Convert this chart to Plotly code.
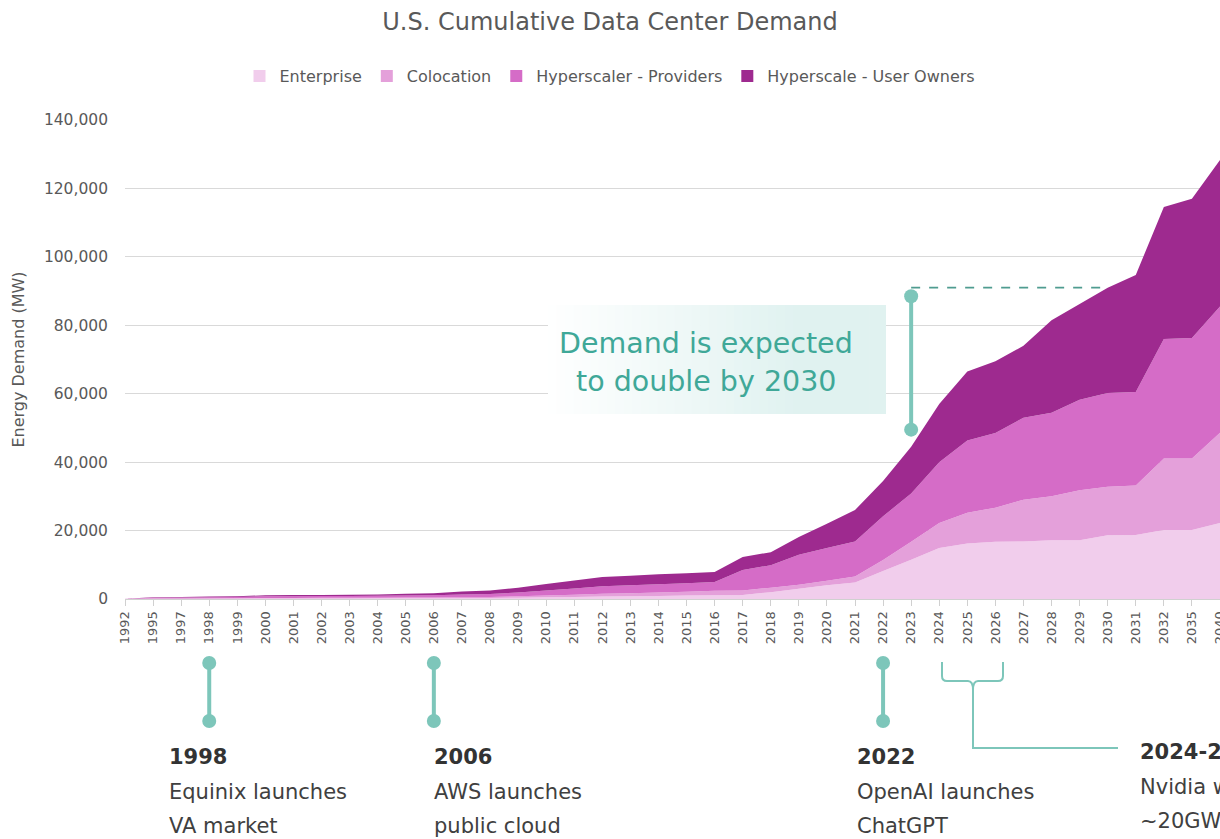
import plotly.graph_objects as go

# Category axis (years) and stacked series values in MW
years = ["1992", "1995", "1997", "1998", "1999", "2000", "2001", "2002", "2003", "2004",
         "2005", "2006", "2007", "2008", "2009", "2010", "2011", "2012", "2013", "2014",
         "2015", "2016", "2017", "2018", "2019", "2020", "2021", "2022", "2023", "2024",
         "2025", "2026", "2027", "2028", "2029", "2030", "2031", "2032", "2035", "2040"]

enterprise = [20, 80, 90, 100, 110, 150, 160, 170, 180, 190,
              200, 220, 260, 300, 380, 480, 580, 700, 800, 900,
              1000, 1100, 1200, 2000, 3000, 4000, 4800, 8200, 11500, 14900,
              16200, 16700, 16800, 17200, 17200, 18600, 18700, 20200, 20200, 22200]

colocation = [20, 70, 80, 100, 110, 150, 160, 170, 180, 190,
              220, 240, 290, 320, 420, 520, 670, 800, 900, 1000,
              1100, 1300, 1300, 1300, 1200, 1300, 1800, 3200, 5200, 7300,
              9000, 10000, 12200, 12800, 14600, 14200, 14500, 20900, 20900, 26400]

hyperscaler_providers = [40, 230, 280, 320, 360, 500, 510, 520, 530, 570,
                         580, 640, 750, 830, 1100, 1500, 1850, 2200, 2300, 2400,
                         2500, 2600, 6000, 6600, 8700, 9600, 10200, 12800, 14100, 17800,
                         21100, 21800, 24000, 24400, 26400, 27400, 27300, 34900, 35200, 36900]

hyperscale_user_owners = [20, 120, 150, 180, 220, 300, 320, 340, 360, 400,
                          500, 600, 900, 1050, 1400, 1900, 2300, 2700, 2800, 2900,
                          2900, 2900, 3800, 3800, 5200, 7100, 9200, 10300, 13700, 17000,
                          20200, 21000, 21000, 27100, 28000, 30800, 34200, 38600, 40700, 42800]

series = [
    ("Enterprise", enterprise, "#F1CDEC"),
    ("Colocation", colocation, "#E4A0DA"),
    ("Hyperscaler - Providers", hyperscaler_providers, "#D56CC7"),
    ("Hyperscale - User Owners", hyperscale_user_owners, "#9E2A8F"),
]

y_ticks = [0, 20000, 40000, 60000, 80000, 100000, 120000, 140000]

# Milestones shown below the axis
milestones = [
    ("1998", "Equinix launches", "VA market"),
    ("2006", "AWS launches", "public cloud"),
    ("2022", "OpenAI launches", "ChatGPT"),
]
range_label = ("2024-2026", "Nvidia will ship", "~20GW of GPUs")

TEAL = "#7DC6BA"
TEAL_TEXT = "#3FA898"
GREY = "#595959"
FONT = "DejaVu Sans"

# Page geometry
W, H = 1220, 839
ML, MR, MT, MB = 125, 0, 120, 240
PW, PH = W - ML - MR, H - MT - MB
X_MAX = len(years) - 1


def px(x):
    return (x - ML) / PW


def py(y):
    return (H - MB - y) / PH


def cat_paper(label):
    return years.index(label) / X_MAX


fig = go.Figure()

for name, vals, color in series:
    fig.add_trace(go.Scatter(
        x=years, y=vals, name=name, stackgroup="one", mode="none",
        fillcolor=color, showlegend=False, hoverinfo="x+y+name"))

# Square legend keys
for name, vals, color in series:
    fig.add_trace(go.Scatter(
        x=[None], y=[None], name=name, mode="markers",
        marker=dict(symbol="square", size=12, color=color)))

# "Doubling" marker: 2023 bar and dashed reference to the 2030 total
totals = [a + b + c + d for a, b, c, d in zip(enterprise, colocation, hyperscaler_providers, hyperscale_user_owners)]
total_2030 = totals[years.index("2030")]
fig.add_trace(go.Scatter(
    x=["2023", "2030"], y=[total_2030, total_2030], mode="lines",
    line=dict(color="#4F9C90", width=1.6, dash="dash"), showlegend=False, hoverinfo="skip"))
fig.add_trace(go.Scatter(
    x=["2023", "2023"], y=[49500, 88500], mode="lines+markers",
    line=dict(color=TEAL, width=4), marker=dict(size=14, color=TEAL),
    showlegend=False, hoverinfo="skip", cliponaxis=False))

shapes = []
annotations = []

# Gradient panel behind the callout text
x0, x1, y0, y1 = 548, 886, 305, 414
n = 40
start, end = (255, 255, 255), (224, 242, 240)
for i in range(n):
    t = min(1.0, (i + 0.5) / n * 1.35)
    col = tuple(round(s + (e - s) * t) for s, e in zip(start, end))
    xa = x0 + (x1 - x0) * i / n
    xb = x0 + (x1 - x0) * (i + 1) / n + 0.8
    shapes.append(dict(type="rect", xref="paper", yref="paper",
                       x0=px(xa), x1=px(min(xb, x1)), y0=py(y1), y1=py(y0),
                       fillcolor="rgb(%d,%d,%d)" % col, line=dict(width=0), layer="above"))

annotations.append(dict(text="Demand is expected", xref="paper", yref="paper",
                        x=px(706), y=py(343), xanchor="center", yanchor="middle",
                        showarrow=False, font=dict(family=FONT, size=28.5, color=TEAL_TEXT)))
annotations.append(dict(text="to double by 2030", xref="paper", yref="paper",
                        x=px(706), y=py(381), xanchor="center", yanchor="middle",
                        showarrow=False, font=dict(family=FONT, size=28.5, color=TEAL_TEXT)))

# Milestone pins and captions below the axis
caption_x = {"1998": 167, "2006": 432, "2022": 855}
for year, line1, line2 in milestones:
    xp = cat_paper(year)
    shapes.append(dict(type="line", xref="paper", yref="paper", x0=xp, x1=xp,
                       y0=py(663), y1=py(721), line=dict(color=TEAL, width=4)))
    for yy in (663, 721):
        shapes.append(dict(type="circle", xref="paper", yref="paper",
                           xsizemode="pixel", ysizemode="pixel",
                           xanchor=xp, yanchor=py(yy), x0=-7, x1=7, y0=-7, y1=7,
                           fillcolor=TEAL, line=dict(width=0)))
    cx = px(caption_x[year])
    annotations.append(dict(text="<b>%s</b>" % year, xref="paper", yref="paper", x=cx, y=py(757),
                            xanchor="left", yanchor="middle", showarrow=False,
                            font=dict(family=FONT, size=21, color="#333333")))
    for txt, yy in ((line1, 792), (line2, 826)):
        annotations.append(dict(text=txt, xref="paper", yref="paper", x=cx, y=py(yy),
                                xanchor="left", yanchor="middle", showarrow=False,
                                font=dict(family=FONT, size=21, color="#404040")))

# Curly brace spanning 2024-2026 with leader line
def path(points):
    out = []
    for cmd, coords in points:
        out.append(cmd + " ".join("%.5f,%.5f" % (px(a), py(b)) for a, b in coords))
    return " ".join(out)

brace = path([
    ("M", [(942, 662)]), ("L", [(942, 676)]), ("Q", [(942, 681), (947, 681)]),
    ("L", [(968, 681)]), ("Q", [(973, 681), (973, 690)]), ("L", [(973, 748)]), ("L", [(1118, 748)]),
    ("M", [(1003, 662)]), ("L", [(1003, 676)]), ("Q", [(1003, 681), (998, 681)]),
    ("L", [(978, 681)]), ("Q", [(973, 681), (973, 690)]),
])
shapes.append(dict(type="path", xref="paper", yref="paper", path=brace,
                   line=dict(color=TEAL, width=2)))

annotations.append(dict(text="<b>%s</b>" % range_label[0], xref="paper", yref="paper", x=px(1138), y=py(752),
                        xanchor="left", yanchor="middle", showarrow=False,
                        font=dict(family=FONT, size=21, color="#333333")))
for txt, yy in ((range_label[1], 787), (range_label[2], 821)):
    annotations.append(dict(text=txt, xref="paper", yref="paper", x=px(1138), y=py(yy),
                            xanchor="left", yanchor="middle", showarrow=False,
                            font=dict(family=FONT, size=21, color="#404040")))

fig.update_layout(
    width=W, height=H,
    margin=dict(l=ML, r=MR, t=MT, b=MB, autoexpand=False),
    paper_bgcolor="white", plot_bgcolor="white",
    font=dict(family=FONT, color=GREY),
    title=dict(text="U.S. Cumulative Data Center Demand", x=0.5, xref="container", xanchor="center",
               y=1 - 22 / H, yref="container", yanchor="middle",
               font=dict(family=FONT, size=24, color=GREY)),
    legend=dict(orientation="h", xref="container", x=0.5, xanchor="center",
                yref="container", y=1 - 76 / H, yanchor="middle",
                font=dict(family=FONT, size=16, color=GREY), itemwidth=30,
                traceorder="normal"),
    xaxis=dict(type="category", categoryorder="array", categoryarray=years,
               range=[0, X_MAX], showgrid=False, showline=True, linecolor="#d0d0d0", linewidth=1,
               ticks="outside", ticklen=6, tickcolor="#d0d0d0", tickangle=-90,
               tickfont=dict(family=FONT, size=13, color=GREY), automargin=False),
    yaxis=dict(range=[0, 140000], tickvals=y_ticks, tickformat=",", showgrid=True,
               gridcolor="#d9d9d9", gridwidth=1, zeroline=False, showline=False,
               ticks="", ticklabelstandoff=16,
               tickfont=dict(family=FONT, size=15.5, color=GREY),
               title=dict(text="Energy Demand (MW)", standoff=15,
                          font=dict(family=FONT, size=16, color=GREY)),
               automargin=False),
    shapes=shapes, annotations=annotations,
    showlegend=True,
)

fig.write_html("out.html")
